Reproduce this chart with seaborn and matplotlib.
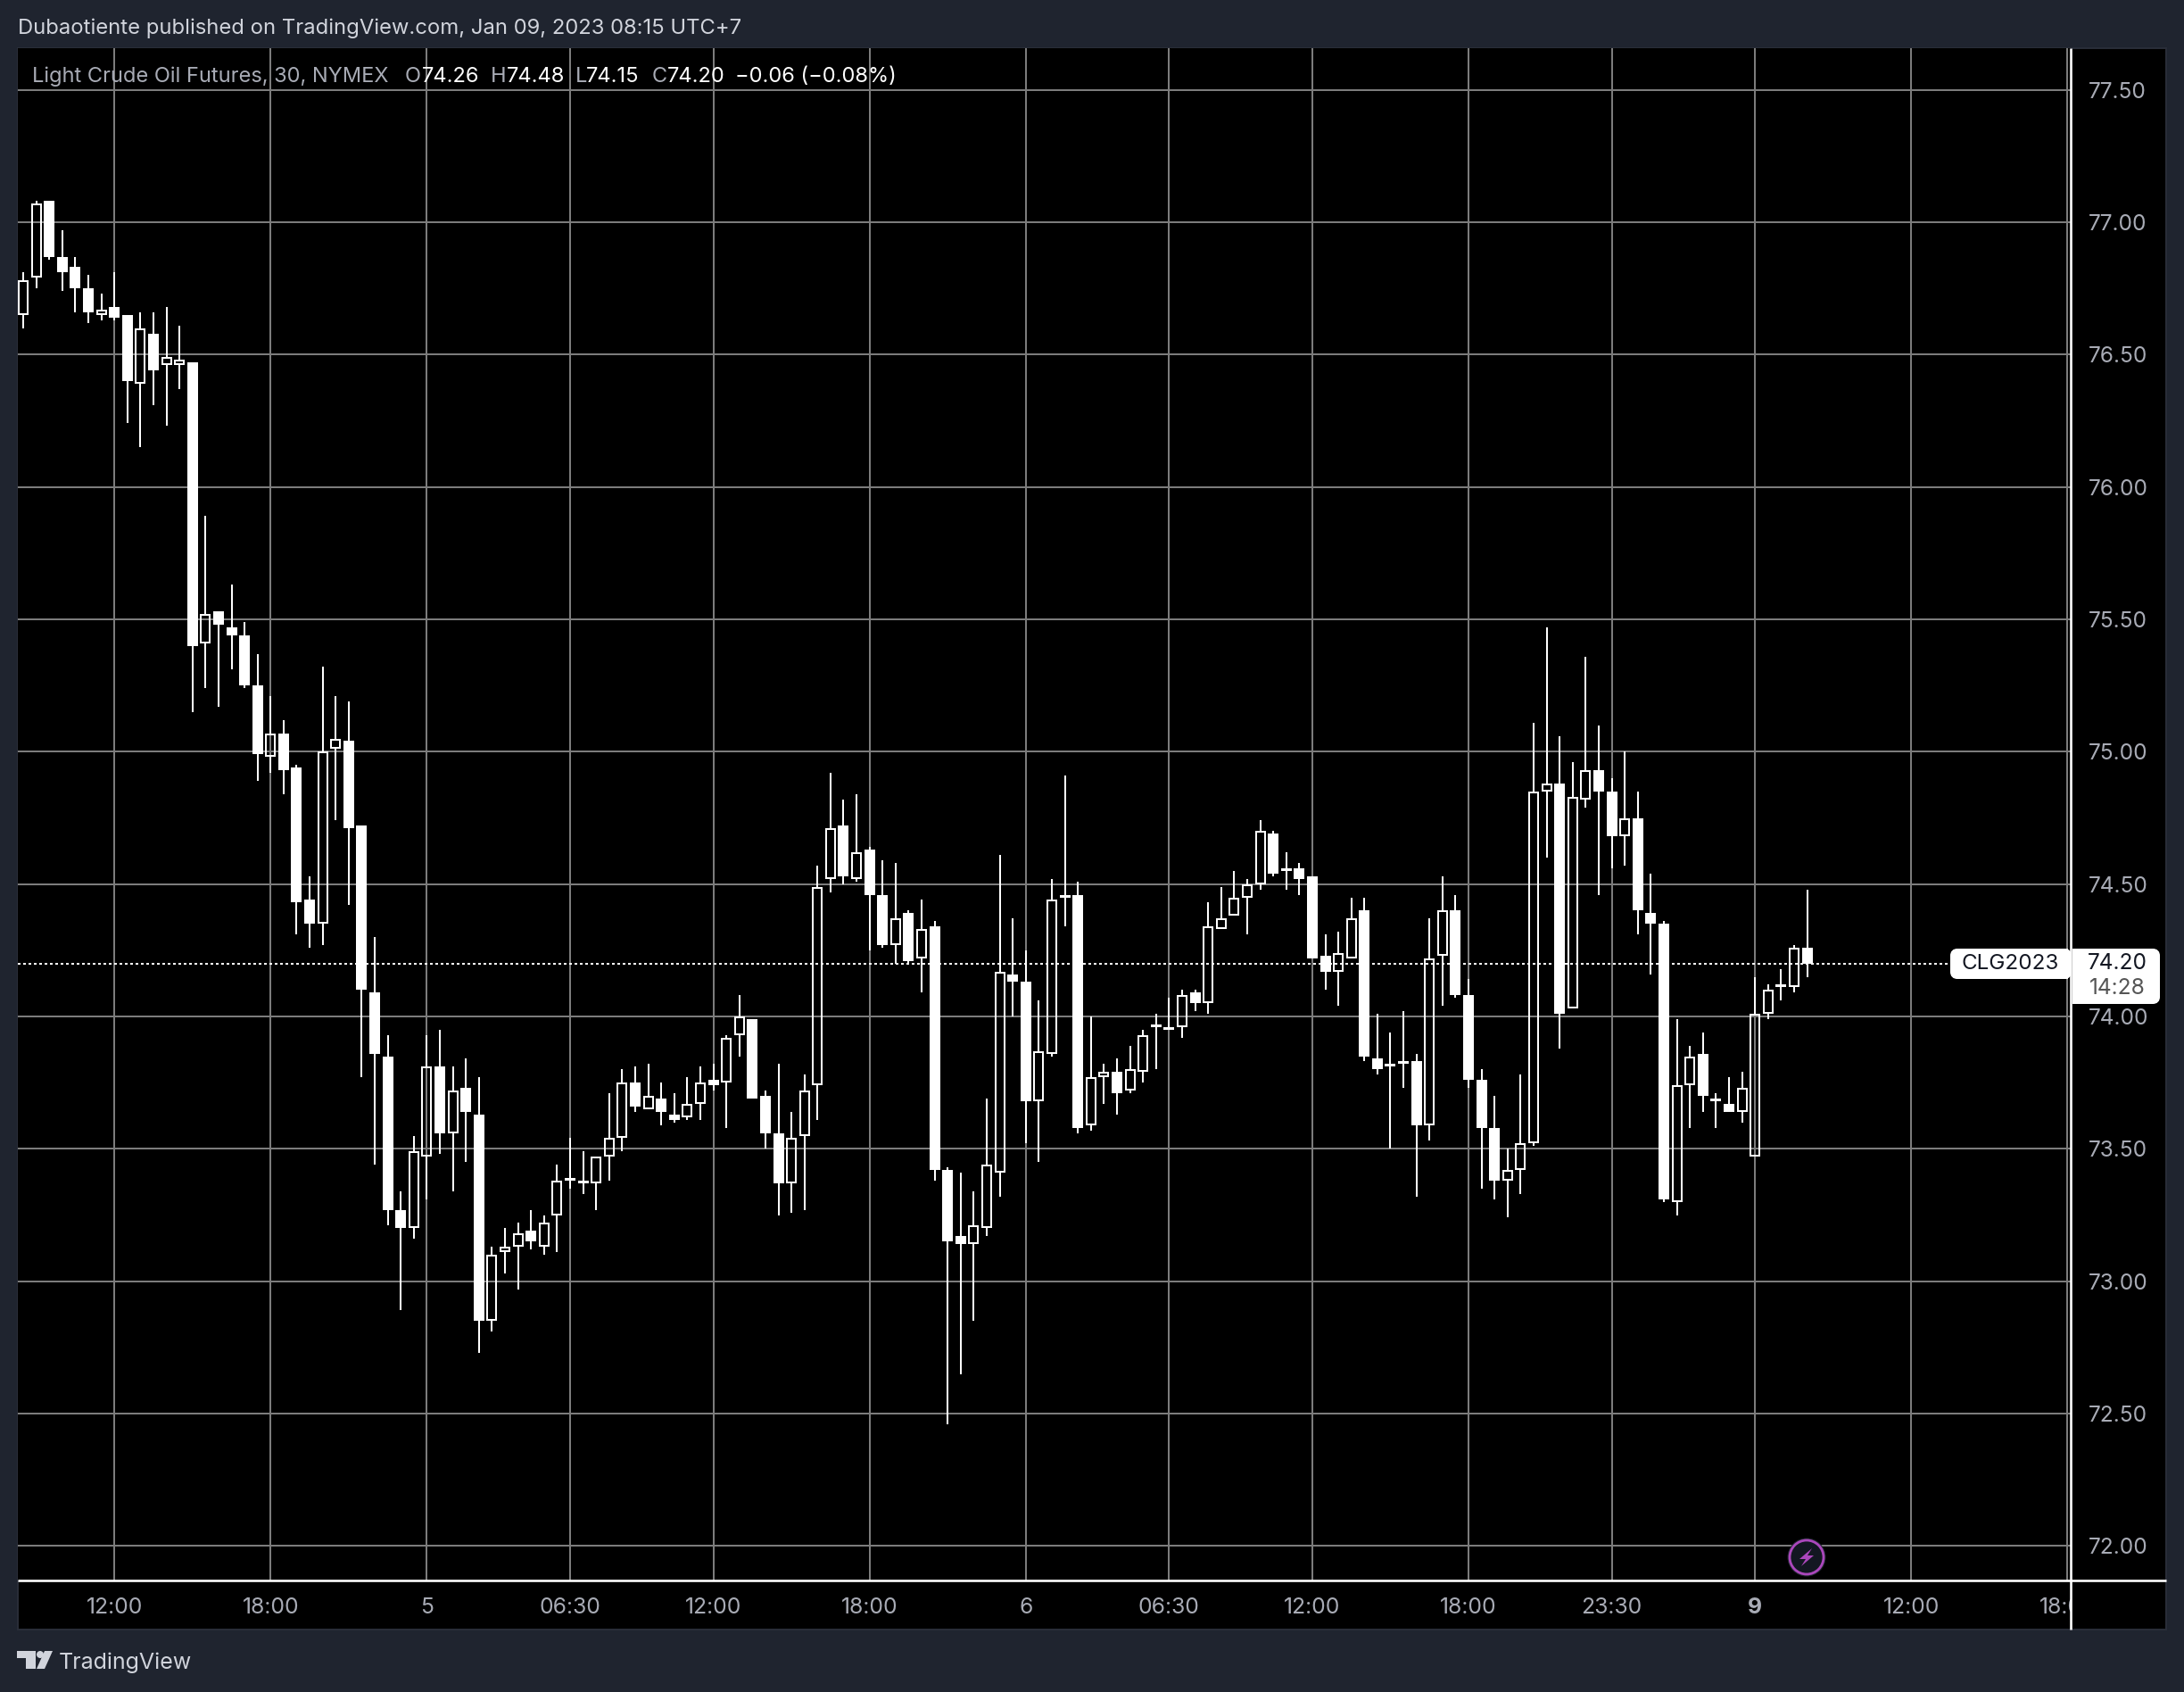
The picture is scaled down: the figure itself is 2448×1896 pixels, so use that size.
import numpy as np
import pandas as pd
import seaborn as sns
import matplotlib
matplotlib.use("Agg")
import matplotlib.pyplot as plt
from matplotlib.patches import Rectangle, FancyBboxPatch, Circle, Polygon
from matplotlib.transforms import Bbox

opens = [76.65,76.79,77.08,76.87,76.83,76.75,76.65,76.68,76.65,76.39,76.58,76.46,76.46,76.47,75.41,75.53,75.47,75.44,75.25,74.98,
75.07,74.94,74.44,74.35,75.01,75.04,74.72,74.09,73.85,73.27,73.20,73.47,73.81,73.56,73.73,73.63,72.85,73.11,73.13,73.19,
73.13,73.25,73.39,73.38,73.37,73.47,73.54,73.75,73.65,73.69,73.63,73.62,73.67,73.76,73.75,73.93,73.99,73.70,73.56,73.37,
73.55,73.74,74.52,74.72,74.52,74.63,74.46,74.27,74.39,74.22,74.34,73.42,73.17,73.14,73.20,73.41,74.16,74.13,73.68,73.86,
74.46,74.46,73.59,73.77,73.79,73.72,73.79,73.97,73.96,73.96,74.09,74.05,74.33,74.38,74.45,74.50,74.69,74.56,74.56,74.53,
74.23,74.17,74.22,74.40,73.84,73.82,73.83,73.83,73.59,74.23,74.40,74.08,73.76,73.58,73.38,73.42,73.52,74.85,74.88,74.03,
74.82,74.93,74.85,74.68,74.75,74.39,74.35,73.30,73.74,73.86,73.69,73.67,73.64,73.47,74.01,74.12,74.11,74.26]
highs = [76.81,77.08,77.08,76.97,76.87,76.80,76.73,76.81,76.65,76.66,76.66,76.68,76.61,76.47,75.89,75.53,75.63,75.49,75.37,75.21,
75.12,74.95,74.53,75.32,75.21,75.19,74.72,74.30,73.93,73.34,73.55,73.93,73.95,73.81,73.84,73.77,73.13,73.20,73.22,73.27,
73.25,73.44,73.54,73.49,73.47,73.71,73.80,73.81,73.82,73.75,73.71,73.77,73.81,73.82,73.93,74.08,73.99,73.72,73.82,73.64,
73.78,74.57,74.92,74.82,74.84,74.64,74.59,74.58,74.40,74.44,74.36,73.43,73.41,73.34,73.69,74.61,74.37,74.25,74.06,74.52,
74.91,74.51,74.00,73.82,73.84,73.89,73.95,74.01,74.07,74.10,74.10,74.43,74.49,74.55,74.52,74.74,74.70,74.62,74.58,74.53,
74.31,74.32,74.45,74.45,74.01,73.94,74.02,73.86,74.37,74.53,74.46,74.14,73.80,73.70,73.50,73.78,75.11,75.47,75.06,74.96,
75.36,75.10,74.90,75.00,74.85,74.54,74.36,73.99,73.89,73.94,73.71,73.77,73.79,74.15,74.12,74.18,74.27,74.48]
lows = [76.60,76.75,76.86,76.74,76.66,76.62,76.63,76.63,76.24,76.15,76.31,76.23,76.37,75.15,75.24,75.17,75.31,75.24,74.89,74.92,
74.84,74.31,74.26,74.27,74.74,74.42,73.77,73.44,73.21,72.89,73.16,73.31,73.48,73.34,73.45,72.73,72.81,73.03,72.97,73.12,
73.10,73.11,73.35,73.33,73.27,73.38,73.49,73.64,73.65,73.59,73.60,73.61,73.61,73.72,73.58,73.85,73.69,73.50,73.25,73.26,
73.27,73.61,74.47,74.50,74.51,74.25,74.26,74.20,74.20,74.09,73.38,72.46,72.65,72.85,73.17,73.32,74.00,73.52,73.45,73.85,
74.34,73.56,73.57,73.67,73.63,73.71,73.75,73.80,73.95,73.92,74.02,74.01,74.33,74.38,74.31,74.48,74.53,74.48,74.46,74.22,
74.10,74.04,74.22,73.83,73.78,73.50,73.73,73.32,73.53,74.04,74.07,73.73,73.35,73.31,73.24,73.33,73.51,74.60,73.88,74.03,
74.79,74.46,74.56,74.57,74.31,74.16,73.30,73.25,73.58,73.64,73.58,73.64,73.60,73.47,73.99,74.06,74.09,74.15]
closes = [76.78,77.07,76.87,76.81,76.75,76.66,76.67,76.64,76.40,76.60,76.44,76.49,76.48,75.40,75.52,75.48,75.44,75.25,74.99,75.07,
74.93,74.43,74.35,75.00,75.05,74.71,74.10,73.86,73.27,73.20,73.49,73.81,73.56,73.72,73.64,72.85,73.10,73.13,73.18,73.15,
73.22,73.38,73.38,73.37,73.47,73.54,73.75,73.66,73.70,73.64,73.61,73.67,73.75,73.74,73.92,74.00,73.69,73.56,73.37,73.54,
73.72,74.49,74.71,74.53,74.62,74.46,74.27,74.37,74.21,74.33,73.42,73.15,73.14,73.21,73.44,74.17,74.13,73.68,73.87,74.44,
74.45,73.58,73.77,73.79,73.71,73.80,73.93,73.96,73.95,74.08,74.05,74.34,74.37,74.45,74.50,74.70,74.54,74.55,74.52,74.22,
74.17,74.24,74.37,73.85,73.80,73.81,73.82,73.59,74.22,74.40,74.08,73.76,73.58,73.38,73.42,73.52,74.85,74.88,74.01,74.83,
74.93,74.85,74.68,74.75,74.40,74.35,73.31,73.74,73.85,73.70,73.68,73.64,73.73,74.01,74.10,74.11,74.26,74.20]

x_tick_bars = [7, 19, 31, 42, 53, 65, 77, 88, 99, 111, 122, 133, 145, 157]
x_tick_labels = ["12:00", "18:00", "5", "06:30", "12:00", "18:00", "6", "06:30", "12:00", "18:00", "23:30", "9", "12:00", "18:00"]
y_ticks = [72.0, 72.5, 73.0, 73.5, 74.0, 74.5, 75.0, 75.5, 76.0, 76.5, 77.0, 77.5]
last_price = 74.20

W, H = 2448, 1896
BG = "#1f242f"
GRID = "#7c7c7c"
GREY = "#a8abb5"
PX = 72 / 100

sns.set_theme(style="dark")
plt.rcParams["font.family"] = ["Inter", "DejaVu Sans"]
plt.rcParams["text.color"] = "white"

fig = plt.figure(figsize=(W / 100, H / 100), dpi=100, facecolor=BG)
fig.add_artist(Rectangle((20 / W, 1 - 1826 / H), 2408 / W, 1772 / H, transform=fig.transFigure,
                         facecolor="black", edgecolor="#2a2e39", linewidth=1.4, zorder=-1))

# plot area in pixels
AL, AR, AT, AB = 20, 2321, 54, 1771
ax = fig.add_axes([AL / W, 1 - AB / H, (AR - AL) / W, (AB - AT) / H], facecolor="black", zorder=1)

X0, DX = 26.0, 14.595
P_PER_PX = 0.5 / 148.33
def y2p(y):
    return 77.5 - (y - 100.7) * P_PER_PX

# build long tables of candle segments
wick_rows, fill_rows, hollow_rows = [], [], []
hw = 5.0 / DX
inset = 1.0 * P_PER_PX
for i, (o, h, l, c) in enumerate(zip(opens, highs, lows, closes)):
    top, bot = max(o, c), min(o, c)
    wick_rows += [(2 * i, i, h), (2 * i, i, top), (2 * i + 1, i, bot), (2 * i + 1, i, l)]
    if c > o:
        t, b = top - inset, bot + inset
        for px, py in [(i - hw, b), (i - hw, t), (i + hw, t), (i + hw, b), (i - hw, b)]:
            hollow_rows.append((i, px, py))
    else:
        fill_rows += [(i, i, top), (i, i, bot)]
cols = ["unit", "bar", "price"]
wicks = pd.DataFrame(wick_rows, columns=cols)
fills = pd.DataFrame(fill_rows, columns=cols)
hollows = pd.DataFrame(hollow_rows, columns=cols)

common = dict(x="bar", y="price", units="unit", estimator=None, errorbar=None, sort=False,
              color="white", legend=False, ax=ax)
ax.axhline(last_price, color="white", lw=2 * PX, dashes=(1.5, 1.5), zorder=2)
sns.lineplot(data=wicks, linewidth=2 * PX, solid_capstyle="butt", zorder=3, **common)
sns.lineplot(data=fills, linewidth=12 * PX, solid_capstyle="butt", zorder=3, **common)
sns.lineplot(data=hollows, linewidth=2 * PX, solid_capstyle="projecting", solid_joinstyle="miter", zorder=3, **common)

ax.set_xlim((AL - X0) / DX, (AR - X0) / DX)
ax.set_ylim(y2p(AB), y2p(AT))
ax.set_xlabel("")
ax.set_ylabel("")
ax.set_axisbelow(True)
ax.grid(True, color=GRID, linewidth=2 * PX)
for s in ax.spines.values():
    s.set_visible(False)

ax.yaxis.tick_right()
ax.set_yticks(y_ticks, [f"{v:.2f}" for v in y_ticks])
ax.tick_params(axis="y", length=0, pad=14, labelsize=17.6, labelcolor=GREY)
ax.set_xticks(x_tick_bars, x_tick_labels)
ax.tick_params(axis="x", length=0, pad=14, labelsize=17.8, labelcolor=GREY)
clip = Bbox([[AL, 0], [AR, H]])
for lab, txt in zip(ax.get_xticklabels(), x_tick_labels):
    lab.set_clip_box(clip)
    lab.set_clip_on(True)
    if txt == "9":
        lab.set_fontweight("bold")

# overlay in pixel coordinates: axis lines, texts, labels, badge, logo
d = fig.add_axes([0, 0, 1, 1], zorder=5)
d.set_xlim(0, W)
d.set_ylim(H, 0)
d.axis("off")
d.plot([20, 2428], [1771, 1771], color="white", lw=2.6 * PX, solid_capstyle="butt")
d.plot([2321, 2321], [54, 1826], color="white", lw=2.6 * PX, solid_capstyle="butt")

d.text(20, 32, "Dubaotiente published on TradingView.com, Jan 09, 2023 08:15 UTC+7",
       color="#d1d4dc", fontsize=17.15, va="center", ha="left")
legend_bits = [(36, "Light Crude Oil Futures, 30, NYMEX", GREY), (454, "O", GREY), (473, "74.26", "white"),
               (550, "H", GREY), (568, "74.48", "white"), (645, "L", GREY), (657, "74.15", "white"),
               (731, "C", GREY), (748, "74.20", "white"), (824, "\u22120.06 (\u22120.08%)", "white")]
for x, s, col in legend_bits:
    d.text(x, 86, s, color=col, fontsize=17, va="center", ha="left")

# last-price labels
d.add_patch(FancyBboxPatch((2190, 1067), 128, 26, boxstyle="round,pad=0,rounding_size=4", facecolor="white",
                           edgecolor="white", linewidth=8 * PX, zorder=4))
d.add_patch(Rectangle((2310, 1063), 8, 34, facecolor="white", edgecolor="none", zorder=4))
d.text(2253, 1080, "CLG2023", color="#131722", fontsize=17.4, va="center", ha="center", zorder=5)
d.add_patch(FancyBboxPatch((2327, 1067), 90, 54, boxstyle="round,pad=0,rounding_size=4", facecolor="white",
                           edgecolor="white", linewidth=8 * PX, zorder=4))
d.add_patch(Rectangle((2322.5, 1063), 10, 62, facecolor="white", edgecolor="none", zorder=4))
d.text(2373, 1080, "74.20", color="#131722", fontsize=17.6, va="center", ha="center", zorder=5)
d.text(2373, 1108, "14:28", color="#555555", fontsize=17.6, va="center", ha="center", zorder=5)

# lightning badge
d.add_patch(Circle((2025, 1745), 21.5, facecolor="#20242f", edgecolor="none", zorder=4))
d.add_patch(Circle((2025, 1745), 19, facecolor="#131722", edgecolor="#ab47bc", linewidth=2.8 * PX, zorder=4))
d.add_patch(Polygon([(2031, 1735), (2017, 1747), (2024, 1747), (2019, 1755), (2033, 1743), (2026, 1743)],
                    closed=True, facecolor="#ab47bc", edgecolor="none", zorder=5))

# TradingView logo
logo = "#d1d4dc"
d.add_patch(Polygon([(19, 1850), (40, 1850), (40, 1870), (29, 1870), (29, 1858), (19, 1858)], closed=True,
                    facecolor=logo, edgecolor="none"))
d.add_patch(Circle((45, 1854), 4, facecolor=logo, edgecolor="none"))
d.add_patch(Polygon([(50, 1850), (59, 1850), (50, 1870), (41, 1870)], closed=True, facecolor=logo, edgecolor="none"))
d.text(66, 1863, "TradingView", color=logo, fontsize=18, va="center", ha="left")

fig.savefig("out.png", dpi=100, facecolor=BG)
